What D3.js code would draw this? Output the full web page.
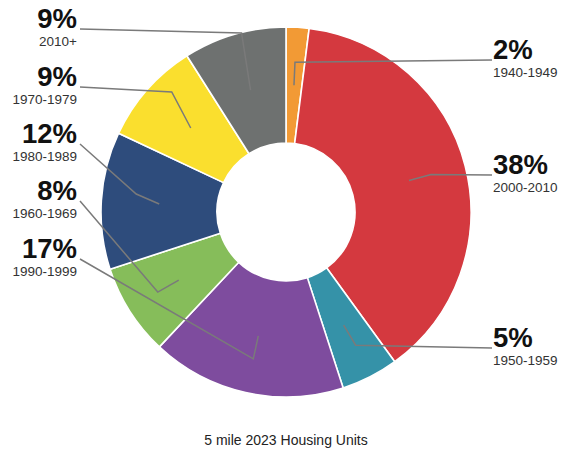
<!DOCTYPE html>
<html>
<head>
<meta charset="utf-8">
<script src="https://cdn.jsdelivr.net/npm/d3@7"></script>
<style>
  html, body { margin: 0; padding: 0; background: #fff; }
  svg { display: block; font-family: "Liberation Sans", Arial, Helvetica, sans-serif; }
</style>
</head>
<body>
<svg id="chart" width="566" height="450"></svg>
<script>
// Housing units by year built, clockwise from 12 o'clock
const categories = ["1940-1949", "2000-2010", "1950-1959", "1990-1999", "1960-1969", "1980-1989", "1970-1979", "2010+"];
const values = [2, 38, 5, 17, 8, 12, 9, 9];
const sliceColors = ["#F29A35", "#D4393F", "#3592A8", "#7E4C9E", "#86BD5A", "#2E4C7C", "#FADF2E", "#6E7170"];
const title = "5 mile 2023 Housing Units";

// Label placement: side of the chart, baseline of the percent text,
// and the elbow of the leader line relative to the slice centroid.
const labelLayout = {
  "2010+":     { side: "left",  y: 28,  elbow: [-9, -57] },
  "1970-1979": { side: "left",  y: 86,  elbow: [-19, -36] },
  "1980-1989": { side: "left",  y: 143, elbow: [-23, -10] },
  "1960-1969": { side: "left",  y: 200, elbow: [-21, 12] },
  "1990-1999": { side: "left",  y: 258, elbow: [-5, 23] },
  "1940-1949": { side: "right", y: 59,  elbow: [1, -23] },
  "2000-2010": { side: "right", y: 174, elbow: [22, -6] },
  "1950-1959": { side: "right", y: 347, elbow: [12, 20] }
};

const svg = d3.select("#chart");
const cx = 286, cy = 212, outerR = 185, innerR = 69;
const leftX = 77, rightX = 493;

const data = categories.map((c, i) => ({ category: c, value: values[i], color: sliceColors[i] }));

const pie = d3.pie().sort(null).value(d => d.value).startAngle(0).endAngle(2 * Math.PI);
const arc = d3.arc().innerRadius(innerR).outerRadius(outerR);
const arcs = pie(data);

const g = svg.append("g").attr("transform", `translate(${cx},${cy})`);

g.selectAll("path.slice")
  .data(arcs)
  .join("path")
  .attr("class", "slice")
  .attr("d", arc)
  .attr("fill", d => d.data.color)
  .attr("stroke", "#fff")
  .attr("stroke-width", 1.6)
  .attr("stroke-linejoin", "round");

// Leader lines: slice centroid -> elbow -> label
svg.append("g").selectAll("path.leader")
  .data(arcs)
  .join("path")
  .attr("class", "leader")
  .attr("fill", "none")
  .attr("stroke", "#7a7a7a")
  .attr("stroke-width", 1.5)
  .attr("d", d => {
    const L = labelLayout[d.data.category];
    const [px, py] = arc.centroid(d);
    const a = [cx + px, cy + py];
    const e = [a[0] + L.elbow[0], a[1] + L.elbow[1]];
    const t = L.side === "left" ? [leftX + 3, L.y + 1] : [rightX - 1, L.y + 1];
    return d3.line()([a, e, t]);
  });

// Each label: bold percent over the year range
const labels = svg.append("g").selectAll("text.label")
  .data(arcs)
  .join("text")
  .attr("class", "label")
  .attr("text-anchor", d => labelLayout[d.data.category].side === "left" ? "end" : "start");

const labelX = d => labelLayout[d.data.category].side === "left" ? leftX : rightX;

labels.append("tspan")
  .attr("x", labelX)
  .attr("y", d => labelLayout[d.data.category].y - 0.5)
  .attr("font-size", 27.5)
  .attr("font-weight", "bold")
  .attr("fill", "#111")
  .text(d => `${d.data.value}%`);

labels.append("tspan")
  .attr("x", labelX)
  .attr("y", d => labelLayout[d.data.category].y + 17.5)
  .attr("font-size", 13.5)
  .attr("fill", "#333")
  .text(d => d.data.category);

svg.append("text")
  .attr("x", cx)
  .attr("y", 445)
  .attr("text-anchor", "middle")
  .attr("font-size", 14)
  .attr("fill", "#222")
  .text(title);
</script>
</body>
</html>
